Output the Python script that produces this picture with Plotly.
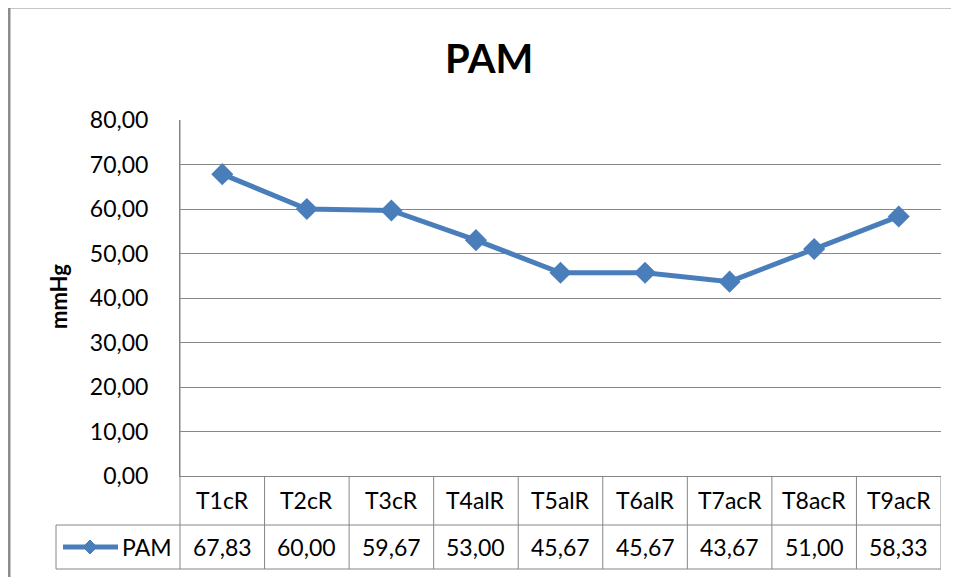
import plotly.graph_objects as go

categories = ["T1cR", "T2cR", "T3cR", "T4alR", "T5alR", "T6alR", "T7acR", "T8acR", "T9acR"]
pam_values = [67.83, 60.00, 59.67, 53.00, 45.67, 45.67, 43.67, 51.00, 58.33]
y_ticks = [0, 10, 20, 30, 40, 50, 60, 70, 80]
series_name = "PAM"
title_text = "PAM"
y_title = "mmHg"

OFF = 8  # browser body margin
W, H = 959 - OFF, 577 - OFF
L, R, T, B = 180, 941, 120, 476
pw, ph = R - L, B - T

def px_x(x):
    return (x - L) / pw

def px_y(y):
    return (B - y) / ph

BLUE = "#4A7EBB"
GRID = "#868686"
FONT = "Lato"
FS = 23

def fmt(v):
    return f"{v:.2f}".replace(".", ",")

fig = go.Figure()
fig.add_trace(go.Scatter(
    x=list(range(len(categories))), y=pam_values, mode="lines+markers",
    line=dict(color=BLUE, width=5),
    marker=dict(symbol="diamond", size=17, color=BLUE),
    name=series_name, showlegend=False, cliponaxis=False,
))

shapes = []
annotations = []
row1_bottom = px_y(525)
row2_bottom = px_y(569)
legend_left = px_x(56)
line_style = dict(color=GRID, width=1)

shapes.append(dict(type="line", xref="paper", yref="paper", x0=legend_left, x1=1, y0=row1_bottom, y1=row1_bottom, line=line_style))
shapes.append(dict(type="line", xref="paper", yref="paper", x0=legend_left, x1=1, y0=row2_bottom, y1=row2_bottom, line=line_style))
shapes.append(dict(type="line", xref="paper", yref="paper", x0=0, x1=0, y0=row2_bottom, y1=1, line=line_style))
shapes.append(dict(type="line", xref="paper", yref="paper", x0=legend_left, x1=legend_left, y0=row2_bottom, y1=row1_bottom, line=line_style))
for i in range(len(categories)):
    shapes.append(dict(type="line", xref="x", yref="paper", x0=i + 0.5, x1=i + 0.5, y0=row2_bottom, y1=0, line=line_style))

hdr_y = px_y(500)
val_y = px_y(547)
for i, (c, v) in enumerate(zip(categories, pam_values)):
    annotations.append(dict(x=i, y=hdr_y, xref="x", yref="paper", text=c, showarrow=False,
                            font=dict(family=FONT, size=FS, color="#000"), xanchor="center", yanchor="middle"))
    annotations.append(dict(x=i, y=val_y, xref="x", yref="paper", text=fmt(v), showarrow=False,
                            font=dict(family=FONT, size=FS, color="#000"), xanchor="center", yanchor="middle"))

# legend key
shapes.append(dict(type="line", xref="paper", yref="paper", x0=px_x(63), x1=px_x(118), y0=val_y, y1=val_y,
                   line=dict(color=BLUE, width=5)))
cx, cy, d = 90, 547, 7
path = f"M {px_x(cx - d)} {px_y(cy)} L {px_x(cx)} {px_y(cy - d)} L {px_x(cx + d)} {px_y(cy)} L {px_x(cx)} {px_y(cy + d)} Z"
shapes.append(dict(type="path", xref="paper", yref="paper", path=path, fillcolor=BLUE, line=dict(color=BLUE, width=1)))
annotations.append(dict(x=px_x(120), y=val_y, xref="paper", yref="paper", text=series_name, showarrow=False,
                        font=dict(family=FONT, size=FS, color="#000"), xanchor="left", yanchor="middle"))

# chart outer border
shapes.append(dict(type="rect", xref="paper", yref="paper", x0=px_x(9), x1=px_x(990), y0=px_y(610), y1=px_y(7),
                   line=dict(color="#8C8C8C", width=3), layer="below"))

annotations.append(dict(x=px_x(58), y=px_y(297), xref="paper", yref="paper", text=f"<b>{y_title}</b>", textangle=-90,
                        showarrow=False, font=dict(family=FONT, size=22, color="#000"), xanchor="center", yanchor="middle"))
annotations.append(dict(x=px_x(489), y=px_y(58), xref="paper", yref="paper", text=f"<b>{title_text}</b>",
                        showarrow=False, font=dict(family=FONT, size=40, color="#000"), xanchor="center", yanchor="middle"))

fig.update_layout(
    width=W, height=H,
    margin=dict(l=L - OFF, r=(959 - R), t=T - OFF, b=(577 - B)),
    paper_bgcolor="white", plot_bgcolor="white",
    shapes=shapes, annotations=annotations,
    showlegend=False,
    xaxis=dict(range=[-0.5, len(categories) - 0.5], showticklabels=False, showgrid=False, zeroline=False,
               showline=True, linecolor=GRID, linewidth=1, fixedrange=True),
    yaxis=dict(range=[0, 80], tickvals=y_ticks, ticktext=[fmt(v) for v in y_ticks], showgrid=True, gridcolor=GRID,
               gridwidth=1, zeroline=False, showline=True, linecolor=GRID, linewidth=1,
               tickfont=dict(family=FONT, size=FS, color="#000"), ticks="", ticklabelstandoff=26),
)
fig.write_html("out.html")
